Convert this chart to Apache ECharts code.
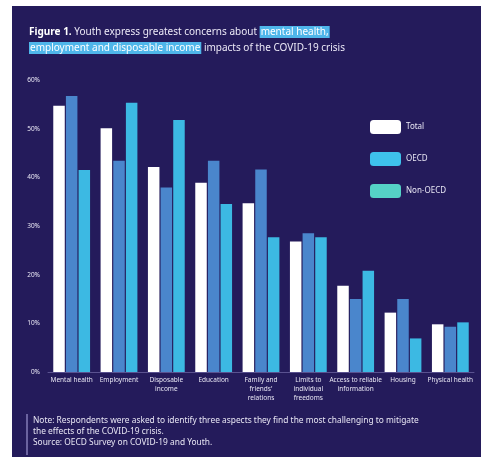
<!DOCTYPE html>
<html><head><meta charset="utf-8">
<script src="https://cdn.jsdelivr.net/npm/echarts@6/dist/echarts.min.js"></script>
<style>html,body{margin:0;padding:0;background:#fff}#c{width:483px;height:459px}</style>
</head><body><div id="c"></div>
<script>
const categories = ["Mental health","Employment","Disposable\nincome","Education","Family and\nfriends'\nrelations","Limits to\nindividual\nfreedoms","Access to reliable\ninformation","Housing","Physical health"];
const totalVals = [54.7, 50.1, 42.1, 38.9, 34.7, 26.8, 17.7, 12.2, 9.8];
const oecdVals = [56.7, 43.4, 37.9, 43.4, 41.6, 28.5, 15.0, 15.0, 9.3];
const nonOecdVals = [41.5, 55.3, 51.8, 34.5, 27.7, 27.7, 20.8, 6.9, 10.2];
const yTicks = [0, 10, 20, 30, 40, 50, 60];

const bg = '#241b5b';
const chart = echarts.init(document.getElementById('c'));
const font = 'Noto Sans';
chart.setOption({
  backgroundColor: '#ffffff',
  animation: false,
  graphic: [
    {type:'rect', z:-10, shape:{x:12,y:6,width:469,height:451}, style:{fill:bg}},
    {type:'rect', shape:{x:26,y:414,width:2,height:41}, style:{fill:'#6b63a0'}},
    {type:'text', left:33, top:415, style:{text:'Note: Respondents were asked to identify three aspects they find the most challenging to mitigate\nthe effects of the COVID-19 crisis.\nSource: OECD Survey on COVID-19 and Youth.', fill:'#e8e6f4', font:'8.4px "Noto Sans"', lineHeight:11}}
  ],
  title: {
    left: 24, top: 19,
    text: '{b|Figure 1.}{n| Youth express greatest concerns about }{h|mental health,}\n{h|employment and disposable income}{n| impacts of the COVID-19 crisis}',
    textStyle: {
      fontFamily: font, fontSize: 10, color: '#fff', lineHeight: 16, fontWeight:'normal',
      rich: {
        b: {fontWeight:'bold', fontSize:10, color:'#fff', fontFamily:font},
        n: {fontWeight:'normal', fontSize:10, color:'#ece9f7', fontFamily:font},
        h: {fontWeight:'normal', fontSize:10, color:'#fff', backgroundColor:'#4fb6ea', padding:[1,1,1,1], fontFamily:font}
      }
    }
  },
  legend: {
    orient:'vertical', left:365, top:115, itemWidth:31, itemHeight:14, itemGap:18,
    textStyle:{color:'#e8e6f4', fontSize:8, fontFamily:font},
    data:[
      {name:'Total', itemStyle:{color:'#ffffff'}},
      {name:'OECD', itemStyle:{color:'#3ec2ec'}},
      {name:'Non-OECD', itemStyle:{color:'#55d2c6'}}
    ]
  },
  grid: {left:48, right:9, top:80, bottom:87},
  xAxis: {
    type:'category', data:categories,
    axisLine:{show:true, lineStyle:{color:'#5a5290'}},
    axisTick:{show:false},
    axisLabel:{color:'#e8e6f4', fontSize:6.5, fontFamily:font, lineHeight:9, interval:0, margin:4}
  },
  yAxis: {
    type:'value', min:yTicks[0], max:yTicks[yTicks.length-1], interval:10,
    axisLine:{show:false}, axisTick:{show:false}, splitLine:{show:false},
    axisLabel:{color:'#e8e6f4', fontSize:6.5, fontFamily:font, formatter:'{value}%', margin:8}
  },
  series: [
    {name:'Total', type:'bar', data:totalVals, barWidth:11.5, barGap:'10%', itemStyle:{color:'#ffffff'}},
    {name:'OECD', type:'bar', data:oecdVals, barWidth:11.5, barGap:'10%', itemStyle:{color:'#4a86cc'}},
    {name:'Non-OECD', type:'bar', data:nonOecdVals, barWidth:11.5, barGap:'10%', itemStyle:{color:'#3cb9e3'}}
  ]
});
</script></body></html>
